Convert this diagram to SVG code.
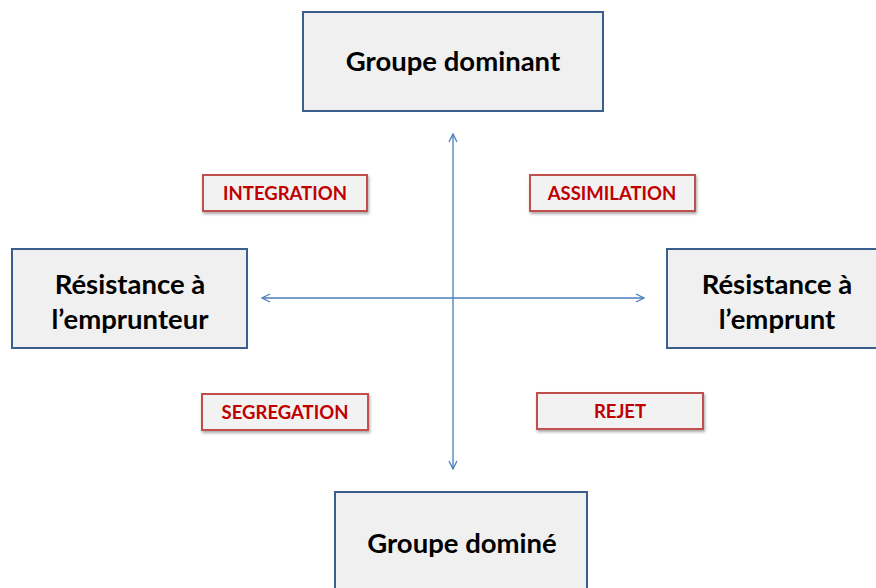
<svg xmlns="http://www.w3.org/2000/svg" width="876" height="588" viewBox="0 0 876 588">
<style>
.box{fill:#f0f0f0;stroke:#3a5f8f;stroke-width:2}
.lbl{fill:#f2f2f2;stroke:#c0504d;stroke-width:2}
.bt{font-family:Lato,"Liberation Sans",sans-serif;font-weight:bold;font-size:27.5px;fill:#000;text-anchor:middle}
.lt{font-family:Lato,"Liberation Sans",sans-serif;font-weight:bold;font-size:18.5px;fill:#c00000;text-anchor:middle}
.ax{stroke:#4a7ebb;stroke-width:1.3;fill:none}
</style>
<defs>
<filter id="sh" x="-10%" y="-20%" width="120%" height="150%">
<feDropShadow dx="1" dy="2" stdDeviation="1.5" flood-color="#000" flood-opacity="0.35"/>
</filter>
<marker id="ah" viewBox="0 0 10 10" refX="9" refY="5" markerWidth="10" markerHeight="10" markerUnits="userSpaceOnUse" orient="auto-start-reverse">
<path d="M1,1 L9,5 L1,9" fill="none" stroke="#4a7ebb" stroke-width="1.3"/>
</marker>
</defs>
<g id="connectors">
<line class="ax" x1="453" y1="134" x2="453" y2="469" marker-start="url(#ah)" marker-end="url(#ah)"/>
<line class="ax" x1="262" y1="298" x2="644" y2="298" marker-start="url(#ah)" marker-end="url(#ah)"/>
</g>
<g id="groupe-dominant">
<rect class="box" x="303" y="12" width="300" height="99"/>
<text class="bt" x="453" y="71">Groupe dominant</text>
</g>
<g id="resistance-emprunteur">
<rect class="box" x="12" y="249" width="235" height="99"/>
<text class="bt" x="130" y="294">Résistance à</text>
<text class="bt" x="130" y="329">l’emprunteur</text>
</g>
<g id="resistance-emprunt">
<rect class="box" x="667" y="249" width="220" height="99"/>
<text class="bt" x="777" y="294">Résistance à</text>
<text class="bt" x="777" y="329">l’emprunt</text>
</g>
<g id="groupe-domine">
<rect class="box" x="335" y="492" width="252" height="110"/>
<text class="bt" x="462" y="553">Groupe dominé</text>
</g>
<g id="integration">
<rect class="lbl" x="203" y="175" width="164" height="36" filter="url(#sh)"/>
<text class="lt" x="285" y="200">INTEGRATION</text>
</g>
<g id="assimilation">
<rect class="lbl" x="530" y="175" width="165" height="36" filter="url(#sh)"/>
<text class="lt" x="612" y="200">ASSIMILATION</text>
</g>
<g id="segregation">
<rect class="lbl" x="202" y="394" width="166" height="36" filter="url(#sh)"/>
<text class="lt" x="285" y="419">SEGREGATION</text>
</g>
<g id="rejet">
<rect class="lbl" x="537" y="393" width="166" height="36" filter="url(#sh)"/>
<text class="lt" x="620" y="418">REJET</text>
</g>
</svg>
